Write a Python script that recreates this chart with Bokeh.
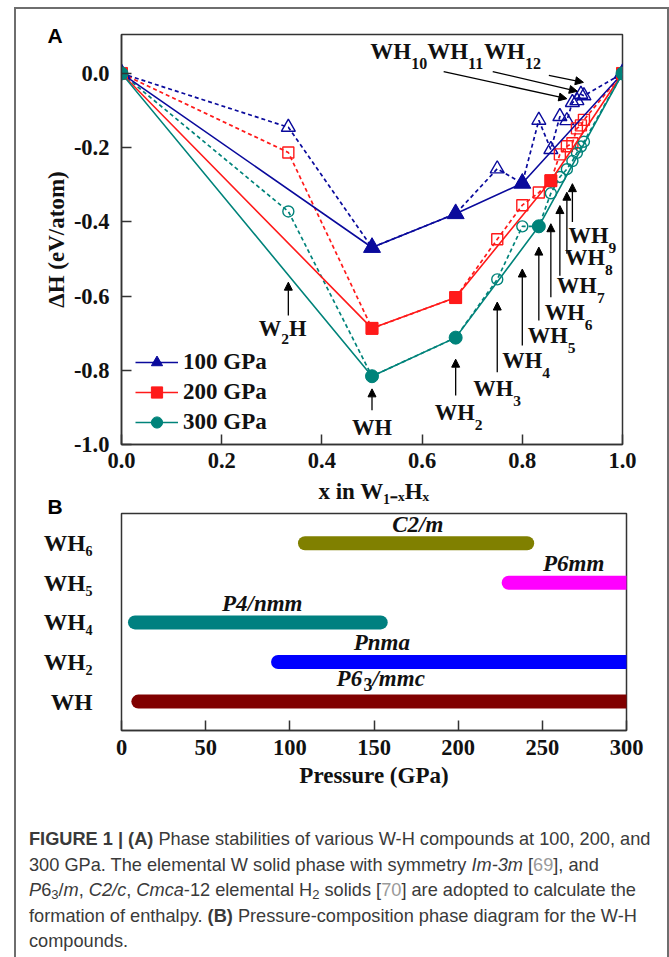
import math
from bokeh.plotting import figure
from bokeh.models import (Label, Arrow, NormalHead, Legend, LegendItem, FixedTicker,
                          PrintfTickFormatter, Div, ColumnDataSource, Title)
from bokeh.layouts import column
from bokeh.embed import file_html
from bokeh.resources import INLINE

# ---------------- data: panel A ----------------
compounds = ["W", "W2H", "WH", "WH2", "WH3", "WH4", "WH5", "WH6", "WH7", "WH8",
             "WH9", "WH10", "WH11", "WH12", "H"]
x_comp = [0.0, 0.333, 0.5, 0.667, 0.75, 0.8, 0.833, 0.857, 0.875, 0.889,
          0.9, 0.909, 0.917, 0.923, 1.0]
dH_100 = [0.0, -0.145, -0.469, -0.378, -0.257, -0.296, -0.126, -0.205, -0.116, -0.127,
          -0.078, -0.073, -0.056, -0.060, 0.0]
dH_200 = [0.0, -0.213, -0.687, -0.604, -0.447, -0.355, -0.321, -0.289, -0.218, -0.196,
          -0.188, -0.148, -0.140, -0.125, 0.0]
dH_300 = [0.0, -0.372, -0.816, -0.712, -0.555, -0.412, -0.412, -0.323, -0.279, -0.258,
          -0.236, -0.214, -0.197, -0.184, 0.0]
hull_100 = ["W", "WH", "WH2", "WH4", "H"]
hull_200 = ["W", "WH", "WH2", "WH6", "H"]
hull_300 = ["W", "WH", "WH2", "WH5", "H"]
pressures = ["100 GPa", "200 GPa", "300 GPa"]
a_xticks = [0.0, 0.2, 0.4, 0.6, 0.8, 1.0]
a_yticks = [-1.0, -0.8, -0.6, -0.4, -0.2, 0.0]

# ---------------- data: panel B ----------------
b_phases = ["WH", "WH_{2}", "WH_{4}", "WH_{5}", "WH_{6}"]
b_start = [10, 93, 8, 230, 109]
b_end = [300, 300, 154, 300, 241]
b_groups = ["%P6%_{3}%/mmc%", "%Pnma%", "%P4/nmm%", "%P6mm%", "%C2/m%"]
b_colors = ["#800000", "#0000ff", "#008080", "#ff00ff", "#808000"]
b_ticks = [0, 50, 100, 150, 200, 250, 300]

BLUE = "#0a0a9c"
RED = "#ff1a1a"
TEAL = "#00837a"
SERIF = "Liberation Serif"
TXT = "#111111"

BOLD_W = {" ": 250, "(": 333, ")": 333, "-": 333, ".": 250, "/": 278, "A": 722, "B": 667,
          "C": 722, "G": 778, "H": 778, "P": 611, "V": 722, "W": 1000, "a": 500, "c": 444,
          "e": 444, "i": 278, "m": 833, "n": 556, "o": 500, "t": 333, "x": 500}
ITAL_W = {" ": 250, "/": 278, "C": 667, "H": 778, "P": 667, "m": 778, "n": 556, "a": 500,
          "c": 444, "x": 500}
SUBS = str.maketrans("0123456789-x", "\u2080\u2081\u2082\u2083\u2084\u2085\u2086\u2087\u2088\u2089\u208b\u2093")


def parse(markup):
    segs, buf = [], ""
    italic, sub = False, False
    i = 0
    while i < len(markup):
        c = markup[i]
        if c == "%":
            if buf:
                segs.append((buf, italic, sub)); buf = ""
            italic = not italic
        elif markup.startswith("_{", i):
            if buf:
                segs.append((buf, italic, sub)); buf = ""
            sub = True
            i += 1
        elif c == "}" and sub:
            if buf:
                segs.append((buf, italic, sub)); buf = ""
            sub = False
        else:
            buf += c
        i += 1
    if buf:
        segs.append((buf, italic, sub))
    return segs


def to_unicode(markup):
    return "".join(t.translate(SUBS) if s else t for t, it, s in parse(markup))


def seg_width(text, size, italic):
    tbl = ITAL_W if italic else BOLD_W
    return sum(tbl.get(ch, 500) for ch in text) * size / 1000.0


def rich_label(p, x, y, markup, size=22.5, sub_size=15.5, sub_dy=-12.5, x0=0.0, dy=0.0,
               align="left", font=SERIF, color=TXT):
    segs = parse(markup)
    widths = [seg_width(t, sub_size if s else size, it) for t, it, s in segs]
    total = sum(widths)
    cur = x0 - (total / 2.0 if align == "center" else 0.0)
    for (t, it, s), w in zip(segs, widths):
        fs = sub_size if s else size
        oy = dy + (sub_dy if s else 0.0)
        p.add_layout(Label(x=x, y=y, x_offset=cur, y_offset=oy, text=t,
                           text_font=font, text_font_size=f"{fs}px",
                           text_font_style="bold italic" if it else "bold",
                           text_color=color, text_align="left", text_baseline="middle"))
        cur += w


def style_axis(ax, tick_len=10):
    ax.major_tick_in = tick_len
    ax.major_tick_out = 0
    ax.minor_tick_in = 0
    ax.minor_tick_out = 0
    ax.axis_line_color = "#333333"
    ax.axis_line_width = 1.5
    ax.major_tick_line_color = "#333333"
    ax.major_tick_line_width = 1.5
    ax.major_label_text_font = SERIF
    ax.major_label_text_font_size = "22.5px"
    ax.major_label_text_font_style = "bold"
    ax.major_label_text_color = TXT
    ax.axis_label_text_font = SERIF
    ax.axis_label_text_font_size = "23px"
    ax.axis_label_text_font_style = "bold"
    ax.axis_label_text_color = TXT


# ================= panel A =================
pA = figure(frame_width=501, frame_height=410, min_border_left=105, min_border_right=45,
            min_border_top=25, min_border_bottom=33, x_range=(0, 1), y_range=(-1.0, 0.105),
            output_backend="svg", toolbar_location=None, margin=(0, 0, 0, 0))
pA.grid.visible = False
pA.outline_line_color = "#333333"
pA.outline_line_width = 1.5
pA.xaxis.ticker = FixedTicker(ticks=a_xticks)
pA.yaxis.ticker = FixedTicker(ticks=a_yticks)
pA.xaxis.formatter = PrintfTickFormatter(format="%.1f")
pA.yaxis.formatter = PrintfTickFormatter(format="%.1f")
style_axis(pA.xaxis[0])
style_axis(pA.yaxis[0])
pA.xaxis.major_label_standoff = 8
pA.yaxis.major_label_standoff = 12
pA.yaxis.axis_label = "\u0394H (eV/atom)"
pA.yaxis.axis_label_standoff = 2

pA.add_layout(Title(text="A", align="left", offset=-74, standoff=-25,
                    text_font="Liberation Sans", text_font_size="21px",
                    text_font_style="bold", text_color="black"), "above")

series = [(dH_100, hull_100, BLUE, "triangle", 17, 14),
          (dH_200, hull_200, RED, "square", 12, 11),
          (dH_300, hull_300, TEAL, "circle", 13, 11)]
legend_items = []
for (vals, hull, col, mk, s_full, s_open), name in zip(series, pressures):
    pA.line(x_comp, vals, line_color=col, line_width=1.7, line_dash="4 3")
    pA.scatter(x_comp[1:-1], vals[1:-1], marker=mk, size=s_open, fill_alpha=0,
               line_color=col, line_width=1.4)
for (vals, hull, col, mk, s_full, s_open), name in zip(series, pressures):
    hx = [x_comp[compounds.index(c)] for c in hull]
    hy = [vals[compounds.index(c)] for c in hull]
    ln = pA.line(hx, hy, line_color=col, line_width=1.6)
    sc = pA.scatter(hx, hy, marker=mk, size=s_full, fill_color=col, line_color=col)
    legend_items.append(LegendItem(label=name, renderers=[ln, sc]))

legend = Legend(items=legend_items, location=(14, 7), label_text_font=SERIF,
                label_text_font_size="23px", label_text_font_style="bold",
                label_text_color=TXT, glyph_width=43, glyph_height=28, label_height=30,
                label_standoff=5, spacing=0, padding=0, margin=0,
                border_line_alpha=0, background_fill_alpha=0)
pA.add_layout(legend)


def arrow(p, xs, ys, xe, ye):
    p.add_layout(Arrow(end=NormalHead(size=8, fill_color="black", line_color="black",
                                      line_width=1),
                       x_start=xs, y_start=ys, x_end=xe, y_end=ye,
                       line_color="black", line_width=1.3))


# vertical arrows with labels (compound, head y, tail y, label dx px, label y)
v_annot = [("WH", -0.85, -0.908, 0, -0.953),
           ("WH2", -0.77, -0.868, -1, -0.913),
           ("WH3", -0.616, -0.805, -4, -0.85),
           ("WH4", -0.527, -0.733, 0, -0.774),
           ("WH5", -0.468, -0.666, 9, -0.706),
           ("WH6", -0.405, -0.603, 14, -0.643),
           ("WH7", -0.356, -0.545, 17, -0.571),
           ("WH8", -0.32, -0.486, 18, -0.495),
           ("WH9", -0.297, -0.40, 16, -0.437)]
w_wh = seg_width("WH", 22.5, False)
for name, yh, yt, dx, ly in v_annot:
    xc = x_comp[compounds.index(name)]
    arrow(pA, xc, yt, xc, yh)
    n = name[2:]
    mk = "WH" + ("_{" + n + "}" if n else "")
    rich_label(pA, xc, ly, mk, x0=dx - w_wh / 2.0)

# W2H
xw2h = x_comp[compounds.index("W2H")]
arrow(pA, xw2h, -0.652, xw2h, -0.5625)
rich_label(pA, xw2h, -0.687, "W_{2}H", x0=-7 - seg_width("W", 22.5, False), sub_dy=-10.5)

# WH10 / WH11 / WH12
rich_label(pA, 0.4965, 0.060, "WH_{10}WH_{11}WH_{12}", size=23, sub_size=16, sub_dy=-12.7)
arrow(pA, 0.643, 0.005, 0.889, -0.068)
arrow(pA, 0.741, 0.005, 0.910, -0.048)
arrow(pA, 0.853, -0.005, 0.922, -0.024)

# ================= panel B =================
pB = figure(frame_width=505, frame_height=217, min_border_left=105, min_border_right=41,
            min_border_top=36, min_border_bottom=70, x_range=(0, 300), y_range=(-0.73, 4.75),
            output_backend="svg", toolbar_location=None, margin=(0, 0, 0, 0))
pB.grid.visible = False
pB.outline_line_color = "#333333"
pB.outline_line_width = 1.5
pB.xaxis.ticker = FixedTicker(ticks=b_ticks)
style_axis(pB.xaxis[0])
style_axis(pB.yaxis[0], tick_len=0)
pB.xaxis.major_label_standoff = 9
pB.xaxis.axis_label = "Pressure (GPa)"
pB.xaxis.axis_label_standoff = 5

rows = list(range(len(b_phases)))
pB.yaxis.ticker = FixedTicker(ticks=rows)
pB.yaxis.major_label_overrides = {r: to_unicode(ph) for r, ph in zip(rows, b_phases)}
pB.yaxis.major_label_text_font_size = "23.5px"
pB.yaxis.major_label_standoff = 29
pB.yaxis.axis_line_color = None

# panel letter B (nearest the frame) and the x-axis title of panel A above it
pB.add_layout(Title(text="B", align="left", offset=-74, standoff=-8,
                    text_font="Liberation Sans", text_font_size="21px",
                    text_font_style="bold", text_color="black"), "above")
pB.add_layout(Title(text="x in W" + "1-x".translate(SUBS) + "H" + "x".translate(SUBS),
                    align="center", standoff=-14, text_font=SERIF, text_font_size="23px",
                    text_font_style="bold", text_color=TXT), "above")

srcB = ColumnDataSource(dict(s=b_start, e=b_end, row=rows, color=b_colors))
pB.segment(x0="s", y0="row", x1="e", y1="row", line_color="color", line_width=14,
           line_cap="round", source=srcB)

b_label_x = [154, 155, 84, 269, 176]
b_label_dy = [23, 19, 19, 19, 19]
for r, g, lx, ldy in zip(rows, b_groups, b_label_x, b_label_dy):
    rich_label(pB, lx, r, g, size=23, sub_size=18, sub_dy=-6, dy=ldy, align="center")

# ================= caption =================
gray = 'style="color:#9a9a9a"'
subst = 'style="font-size:13px; line-height:0; vertical-align:-3px"'
caption_html = (
    '<div style="padding:27px 0 0 13px; font-family:\'Liberation Sans\', Arial, sans-serif; '
    'font-size:18.2px; line-height:25.5px; color:#3a3a3a; white-space:nowrap;">'
    '<b>FIGURE 1 | (A)</b> Phase stabilities of various W-H compounds at 100, 200, and<br>'
    f'300 GPa. The elemental W solid phase with symmetry <i>Im-3m</i> [<span {gray}>69</span>], and<br>'
    f'<i>P</i>6<span {subst}>3</span>/<i>m</i>, <i>C2/c</i>, <i>Cmca</i>-12 elemental H<span {subst}>2</span> '
    f'solids [<span {gray}>70</span>] are adopted to calculate the<br>'
    'formation of enthalpy. <b>(B)</b> Pressure-composition phase diagram for the W-H<br>'
    'compounds.</div>')
cap = Div(text=caption_html, width=651, height=157, margin=(0, 0, 0, 0))

layout = column(pA, pB, cap, spacing=0, margin=(7, 0, 0, 14),
                styles={"border-top": "2px solid #6e6e6e", "border-left": "2px solid #6e6e6e",
                        "border-right": "2px solid #6e6e6e", "background": "white"})

open("out.html", "w").write(file_html(layout, INLINE))
